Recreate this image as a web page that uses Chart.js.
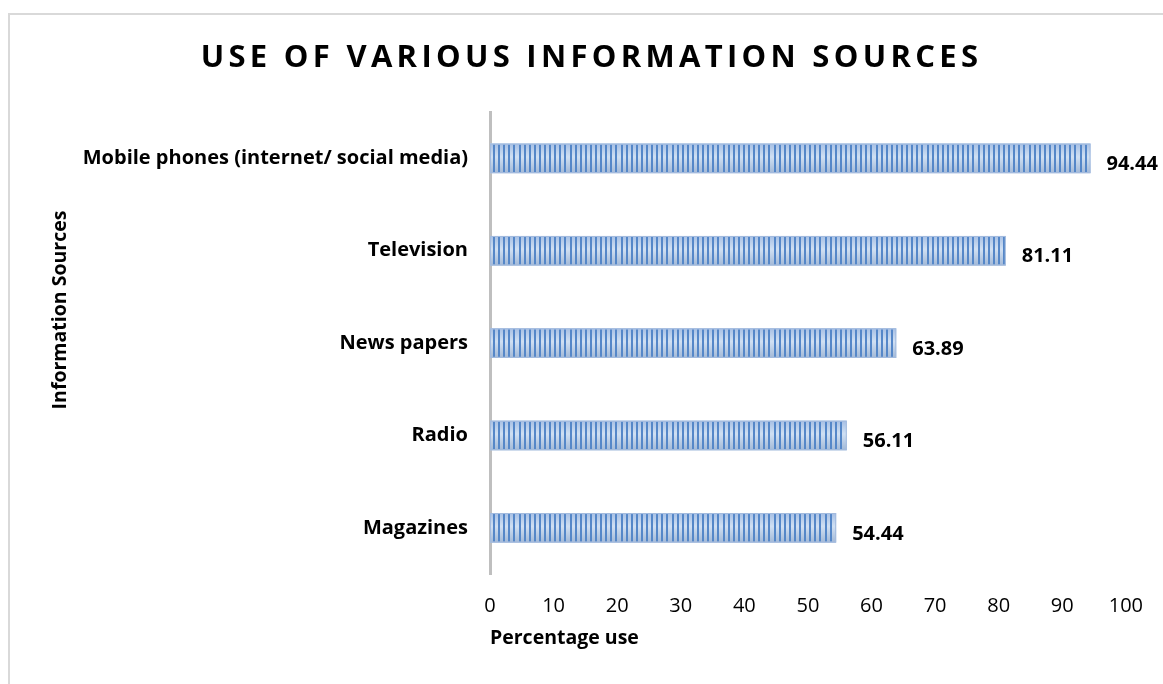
<!DOCTYPE html>
<html>
<head>
<meta charset="utf-8">
<script src="https://cdn.jsdelivr.net/npm/chart.js@4.4.0/dist/chart.umd.min.js"></script>
<style>
  html, body { margin: 0; padding: 0; background: #fff; }
</style>
</head>
<body>
<canvas id="myChart" width="1163" height="684"></canvas>
<script>
var sources = ['Mobile phones (internet/ social media)', 'Television', 'News papers', 'Radio', 'Magazines'];
var percentUse = [94.44, 81.11, 63.89, 56.11, 54.44];
var chartTitle = 'USE OF VARIOUS INFORMATION SOURCES';
var xTitle = 'Percentage use';
var yTitle = 'Information Sources';

var FONT = "'Open Sans', sans-serif";

// thin grey frame round the chart (left and top edges only show)
var framePlugin = {
  id: 'frame',
  beforeDraw: function(chart) {
    var ctx = chart.ctx;
    ctx.save();
    ctx.fillStyle = '#fff';
    ctx.fillRect(0, 0, chart.width, chart.height);
    ctx.strokeStyle = '#d9d9d9';
    ctx.lineWidth = 2;
    ctx.beginPath();
    ctx.moveTo(9, chart.height);
    ctx.lineTo(9, 14);
    ctx.lineTo(chart.width, 14);
    ctx.stroke();
    ctx.restore();
  },
  afterInit: function(chart) {
    // spaced-out letters for the title, nudged right
    var block = chart.titleBlock;
    if (block && !block._spaced) {
      var orig = block.draw;
      block.draw = function() {
        var c = chart.ctx;
        c.save();
        c.translate(27, 0);
        c.letterSpacing = '4.3px';
        orig.apply(this, arguments);
        c.letterSpacing = '0px';
        c.restore();
      };
      block._spaced = true;
    }
  }
};

// striped fill on the bars + value labels
var barPlugin = {
  id: 'barStripes',
  afterDatasetsDraw: function(chart) {
    var ctx = chart.ctx;
    var meta = chart.getDatasetMeta(0);
    ctx.save();
    meta.data.forEach(function(bar, i) {
      var p = bar.getProps(['x', 'y', 'base', 'height'], true);
      var left = Math.min(p.base, p.x), right = Math.max(p.base, p.x);
      var top = p.y - p.height / 2, h = p.height;
      var g = ctx.createLinearGradient(0, top, 0, top + h);
      g.addColorStop(0, '#a6bfe4');
      g.addColorStop(0.45, '#d0e0f3');
      g.addColorStop(1, '#a2b8d6');
      ctx.fillStyle = g;
      ctx.fillRect(left, top, right - left, h);
      ctx.fillStyle = '#5587c8';
      for (var sx = left + 3; sx < right - 2; sx += 5.1) {
        ctx.fillRect(Math.round(sx), top + 1, 2, h - 2);
      }
      ctx.strokeStyle = '#a3bbde';
      ctx.lineWidth = 1;
      ctx.strokeRect(left + 0.5, top + 0.5, right - left - 1, h - 1);

      ctx.fillStyle = '#000';
      ctx.font = 'bold 20px ' + FONT;
      ctx.textAlign = 'left';
      ctx.textBaseline = 'middle';
      ctx.fillText(percentUse[i].toFixed(2), right + 16, p.y + 6);
    });

    // vertical axis title
    ctx.translate(60, 310);
    ctx.rotate(-Math.PI / 2);
    ctx.font = 'bold 19.5px ' + FONT;
    ctx.textAlign = 'center';
    ctx.textBaseline = 'middle';
    ctx.fillText(yTitle, 0, 0);
    ctx.restore();
  }
};

var ctx = document.getElementById('myChart').getContext('2d');
var myChart = new Chart(ctx, {
  type: 'bar',
  data: {
    labels: sources,
    datasets: [{
      label: 'Percentage use',
      data: percentUse,
      backgroundColor: '#c3d5ee',
      borderWidth: 0,
      barPercentage: 0.32,
      categoryPercentage: 1
    }]
  },
  options: {
    indexAxis: 'y',
    responsive: false,
    animation: false,
    layout: { padding: { left: 0, right: 34, top: 0, bottom: 34 } },
    plugins: {
      legend: { display: false },
      tooltip: { enabled: false },
      title: {
        display: true,
        text: chartTitle,
        color: '#000',
        font: { family: FONT, size: 31, weight: 'bold', lineHeight: 1.2 },
        padding: { top: 40, bottom: 35 }
      }
    },
    scales: {
      x: {
        min: 0,
        max: 100,
        ticks: {
          stepSize: 10,
          color: '#000',
          padding: 20,
          font: { family: FONT, size: 20 }
        },
        grid: { display: false, drawTicks: false },
        border: { display: false },
        title: {
          display: true,
          text: xTitle,
          align: 'start',
          color: '#000',
          font: { family: FONT, size: 19.5, weight: 'bold' },
          padding: 0
        },
        afterFit: function(scale) { scale.height = 76; }
      },
      y: {
        ticks: {
          color: '#000',
          padding: 22,
          font: { family: FONT, size: 20, weight: 'bold' }
        },
        grid: { display: false, drawTicks: false },
        border: { display: true, color: '#bfbfbf', width: 3 },
        afterFit: function(scale) { scale.width = 490; }
      }
    }
  },
  plugins: [framePlugin, barPlugin]
});
</script>
</body>
</html>
